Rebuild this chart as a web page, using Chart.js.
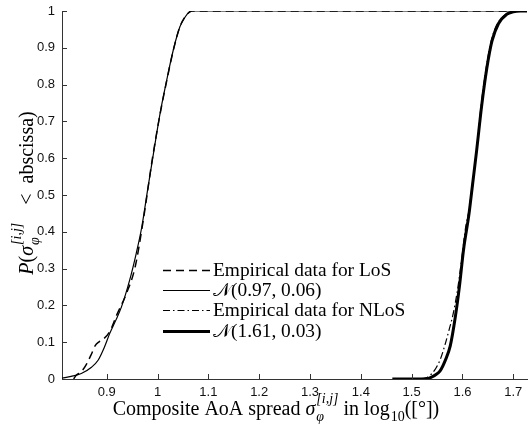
<!DOCTYPE html>
<html>
<head>
<meta charset="utf-8">
<script src="https://cdn.jsdelivr.net/npm/chart.js@4.4.1/dist/chart.umd.min.js"></script>
<style>
  html, body { margin: 0; padding: 0; background: #fff; }
  #wrap { width: 528px; height: 428px; }
</style>
</head>
<body>
<div id="wrap"><canvas id="c" width="528" height="428"></canvas></div>
<script>
// values (CDF curves)
const losEmpX = [0.835, 0.840, 0.850, 0.860, 0.870, 0.877, 0.885, 0.893, 0.906, 0.920, 0.939, 0.956, 0.972, 0.990, 1.005, 1.018, 1.031, 1.044, 1.055, 1.063, 1.068, 1.727];
const losEmpY = [0.000, 0.010, 0.020, 0.040, 0.068, 0.090, 0.101, 0.108, 0.129, 0.175, 0.233, 0.305, 0.432, 0.600, 0.720, 0.810, 0.893, 0.957, 0.986, 0.997, 1.000, 1.000];

const losFitX = [0.812, 0.830, 0.850, 0.870, 0.883, 0.895, 0.906, 0.918, 0.929, 0.945, 0.958, 0.969, 0.980, 0.992, 1.005, 1.018, 1.031, 1.044, 1.055, 1.062, 1.067, 1.727];
const losFitY = [0.002, 0.007, 0.015, 0.032, 0.051, 0.085, 0.124, 0.160, 0.196, 0.268, 0.341, 0.413, 0.510, 0.613, 0.722, 0.812, 0.894, 0.957, 0.985, 0.997, 1.000, 1.000];

const nlosEmpX = [1.520, 1.530, 1.540, 1.548, 1.556, 1.565, 1.573, 1.582, 1.590, 1.598, 1.606, 1.613, 1.620, 1.628, 1.636, 1.646, 1.656, 1.665, 1.680, 1.695, 1.710, 1.727];
const nlosEmpY = [0.000, 0.004, 0.015, 0.030, 0.052, 0.090, 0.130, 0.179, 0.240, 0.320, 0.410, 0.460, 0.535, 0.625, 0.735, 0.840, 0.915, 0.955, 0.985, 0.996, 1.000, 1.000];

const nlosFitX = [1.462, 1.530, 1.540, 1.548, 1.556, 1.566, 1.576, 1.586, 1.594, 1.602, 1.613, 1.620, 1.628, 1.638, 1.648, 1.658, 1.671, 1.687, 1.700, 1.714, 1.727];
const nlosFitY = [0.000, 0.001, 0.006, 0.012, 0.022, 0.050, 0.090, 0.169, 0.251, 0.350, 0.450, 0.530, 0.622, 0.745, 0.845, 0.918, 0.966, 0.991, 0.998, 1.000, 1.000];

const seriesLabels = ['Empirical data for LoS', '\u{1D4A9}(0.97, 0.06)', 'Empirical data for NLoS', '\u{1D4A9}(1.61, 0.03)'];

const xTicks = [0.9, 1.0, 1.1, 1.2, 1.3, 1.4, 1.5, 1.6, 1.7];
const xTickLabels = ['0.9', '1', '1.1', '1.2', '1.3', '1.4', '1.5', '1.6', '1.7'];
const yTicks = [0, 0.1, 0.2, 0.3, 0.4, 0.5, 0.6, 0.7, 0.8, 0.9, 1];
const yTickLabels = ['0', '0.1', '0.2', '0.3', '0.4', '0.5', '0.6', '0.7', '0.8', '0.9', '1'];

const pts = (xs, ys) => xs.map((x, i) => ({ x, y: ys[i] }));

const SERIF = "'Liberation Serif', 'DejaVu Serif', 'DejaVu Sans', serif";
const fontStr = (size, it) => (it ? 'italic ' : '') + size + 'px ' + SERIF;

function partWidth(ctx, p, size) {
    if (p.gap) return p.gap;
    if (p.sup || p.sub) {
        ctx.font = fontStr(size * 0.7, p.it);
        return Math.max(ctx.measureText(p.sup || '').width, ctx.measureText(p.sub || '').width) + 1;
    }
    ctx.font = fontStr(size, p.it);
    return ctx.measureText(p.t).width;
}

function richWidth(ctx, parts, size) {
    return parts.reduce((s, p) => s + partWidth(ctx, p, size), 0);
}

function drawRich(ctx, parts, x, y, size) {
    let cx = x;
    ctx.textAlign = 'left';
    ctx.textBaseline = 'alphabetic';
    parts.forEach(p => {
        const w = partWidth(ctx, p, size);
        if (p.gap) {
            // spacing only
        } else if (p.sup || p.sub) {
            ctx.font = fontStr(size * 0.7, p.it);
            if (p.sup) ctx.fillText(p.sup, cx + 1, y - size * 0.6);
            if (p.sub) ctx.fillText(p.sub, cx + 1, y + size * 0.3);
        } else {
            ctx.font = fontStr(size, p.it);
            ctx.fillText(p.t, cx, y);
        }
        cx += w;
    });
}

const xTitle = [
    { t: 'Composite AoA spread ' }, { t: '\u03C3', it: true }, { sup: '[i,j]', sub: '\u03C6', it: true },
    { t: ' in log' }, { sub: '10' }, { t: '([\u00B0])' }
];
const yTitle = [
    { t: 'P', it: true }, { t: '(' }, { t: '\u03C3', it: true }, { sup: '[i,j]', sub: '\u03C6', it: true },
    { gap: 18 }, { t: '<' }, { gap: 10 }, { t: 'abscissa)' }
];

const decorPlugin = {
    id: 'decor',
    afterDraw(chart) {
        const { ctx, chartArea: a, scales: { x, y } } = chart;
        ctx.save();
        // inward ticks
        ctx.strokeStyle = '#333';
        ctx.lineWidth = 1;
        ctx.beginPath();
        xTicks.forEach(v => {
            const px = Math.round(x.getPixelForValue(v)) + 0.5;
            ctx.moveTo(px, a.bottom);
            ctx.lineTo(px, a.bottom - 5);
        });
        yTicks.forEach(v => {
            const py = Math.round(y.getPixelForValue(v)) + 0.5;
            ctx.moveTo(a.left, py);
            ctx.lineTo(a.left + 5, py);
        });
        ctx.stroke();

        ctx.fillStyle = '#000';
        // x title
        const size = 20;
        const wx = richWidth(ctx, xTitle, size);
        drawRich(ctx, xTitle, 276 - wx / 2, 415, size);
        // y title
        ctx.save();
        ctx.translate(33, 193);
        ctx.rotate(-Math.PI / 2);
        const wy = richWidth(ctx, yTitle, size);
        drawRich(ctx, yTitle, -wy / 2, 0, size);
        ctx.restore();

        // legend inside the axes
        const lx0 = 163, lx1 = 210, rowY = [270, 290, 310, 331];
        chart.data.datasets.forEach((ds, i) => {
            ctx.save();
            ctx.strokeStyle = '#000';
            ctx.lineWidth = ds.borderWidth;
            ctx.setLineDash(ds.borderDash || []);
            ctx.beginPath();
            ctx.moveTo(lx0, rowY[i] + 0.5);
            ctx.lineTo(lx1, rowY[i] + 0.5);
            ctx.stroke();
            ctx.restore();
            ctx.font = fontStr(19.4, false);
            ctx.textAlign = 'left';
            ctx.textBaseline = 'alphabetic';
            ctx.fillText(ds.label, 213, rowY[i] + 6);
        });
        ctx.restore();
    }
};

const lineDs = (label, data, width, dash) => ({
    label, data,
    borderColor: '#000', backgroundColor: '#000',
    borderWidth: width, borderDash: dash,
    pointRadius: 0, fill: false,
    cubicInterpolationMode: 'monotone'
});

new Chart(document.getElementById('c'), {
    type: 'line',
    data: {
        datasets: [
            lineDs(seriesLabels[0], pts(losEmpX, losEmpY), 1.5, [8, 5]),
            lineDs(seriesLabels[1], pts(losFitX, losFitY), 1.2, []),
            lineDs(seriesLabels[2], pts(nlosEmpX, nlosEmpY), 1.2, [7, 3, 1.5, 3]),
            lineDs(seriesLabels[3], pts(nlosFitX, nlosFitY), 3, [])
        ]
    },
    options: {
        responsive: false,
        animation: false,
        layout: { padding: { top: 11, right: 1, left: 0, bottom: 0 } },
        plugins: { legend: { display: false }, tooltip: { enabled: false } },
        scales: {
            x: {
                type: 'linear', min: 0.812, max: 1.727,
                afterBuildTicks: s => { s.ticks = xTicks.map(v => ({ value: v })); },
                afterFit: s => { s.height = 49; s.paddingLeft = 0; s.paddingRight = 0; },
                grid: { display: false, drawTicks: false },
                border: { display: true, color: '#333', width: 1 },
                ticks: {
                    padding: 6, autoSkip: false, maxRotation: 0, color: '#111',
                    font: { family: "'Liberation Sans', Arial, sans-serif", size: 13 },
                    callback: (v, i) => xTickLabels[i]
                }
            },
            y: {
                type: 'linear', min: 0, max: 1,
                afterBuildTicks: s => { s.ticks = yTicks.map(v => ({ value: v })); },
                afterFit: s => { s.width = 62; s.paddingTop = 0; s.paddingBottom = 0; },
                grid: { display: false, drawTicks: false },
                border: { display: true, color: '#333', width: 1 },
                ticks: {
                    padding: 7, color: '#111',
                    font: { family: "'Liberation Sans', Arial, sans-serif", size: 13 },
                    callback: (v, i) => yTickLabels[i]
                }
            }
        }
    },
    plugins: [decorPlugin]
});
</script>
</body>
</html>
